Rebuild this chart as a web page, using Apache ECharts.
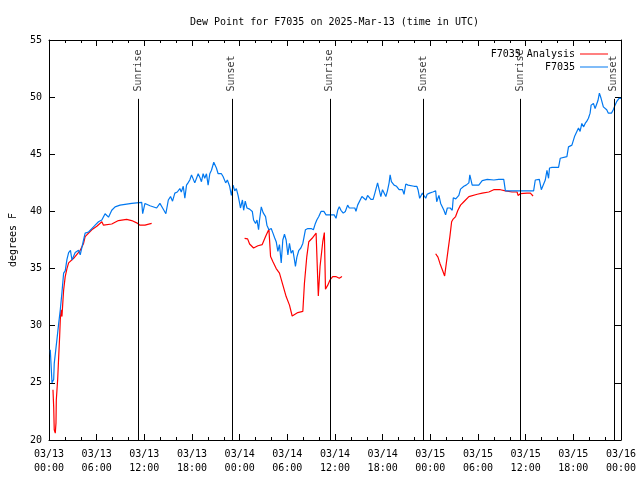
<!DOCTYPE html>
<html><head><meta charset="utf-8">
<script src="https://cdn.jsdelivr.net/npm/echarts@6/dist/echarts.min.js"></script>
<style>html,body{margin:0;padding:0;background:#fff}#c{width:640px;height:480px}</style>
</head><body><div id="c"></div>
<script>
// Hours since 2025-03-13 00:00 UTC
const xTickLabels = ["03/13\n00:00","03/13\n06:00","03/13\n12:00","03/13\n18:00","03/14\n00:00","03/14\n06:00","03/14\n12:00","03/14\n18:00","03/15\n00:00","03/15\n06:00","03/15\n12:00","03/15\n18:00","03/16\n00:00"];
const sunT = [11.29, 23.08, 35.41, 47.16, 59.36, 71.16];
const sunNames = ["Sunrise","Sunset","Sunrise","Sunset","Sunrise","Sunset"];

const blueT = [0.16,0.38,0.59,0.66,1.0,1.22,1.42,1.63,1.84,2.04,2.26,2.47,2.7,2.89,3.3,3.51,3.72,3.93,4.35,4.55,4.98,5.39,5.81,6.23,6.65,7.06,7.49,7.9,8.32,8.94,10.41,10.62,11.67,11.79,12.08,12.29,12.71,13.55,13.96,14.3,14.71,15.02,15.3,15.55,15.84,16.15,16.47,16.65,16.9,17.1,17.31,17.5,17.72,17.94,18.15,18.35,18.78,18.98,19.19,19.4,19.6,19.82,20.03,20.24,20.45,20.74,21.07,21.29,21.7,21.91,22.24,22.45,22.74,22.96,23.17,23.38,23.58,23.8,24.0,24.1,24.35,24.5,24.7,24.92,25.25,25.59,25.75,26.0,26.18,26.38,26.5,26.72,26.95,27.26,27.43,27.68,27.97,28.19,28.4,28.6,28.81,29.01,29.23,29.43,29.64,29.85,30.07,30.27,30.48,30.7,30.9,31.02,31.2,31.45,31.7,31.95,32.28,32.58,33.0,33.28,33.53,33.71,33.96,34.24,34.6,34.87,35.5,35.9,36.13,36.34,36.54,36.75,37.04,37.3,37.59,37.8,38.01,38.5,38.64,38.85,39.05,39.39,39.6,39.89,40.1,40.3,40.52,40.8,41.02,41.36,41.56,41.77,41.98,42.19,42.4,42.6,42.81,42.94,43.1,43.44,43.75,44.07,44.5,44.69,44.91,45.2,45.95,46.3,46.45,46.66,47.0,47.2,47.42,47.6,47.9,48.3,48.67,48.8,49.08,49.3,49.5,49.71,49.92,50.14,50.5,50.76,50.89,51.2,51.59,51.8,52.22,52.5,52.85,52.97,53.27,54.1,54.53,55.16,56.0,56.61,57.24,57.45,58.5,59.5,60.5,61.0,61.21,61.72,61.97,62.2,62.47,62.68,62.88,63.0,63.31,64.14,64.35,65.19,65.39,65.82,66.15,66.4,66.65,66.85,67.07,67.3,67.49,67.7,67.9,68.11,68.24,68.53,68.74,68.95,69.1,69.28,69.49,69.78,70.0,70.2,70.41,70.8,71.03,71.25,71.45,71.75,72.0];
const blueV = [27.9,25.0,25.3,26.7,28.8,30.2,31.4,32.9,34.6,34.8,35.8,36.4,36.6,35.75,36.4,36.4,36.6,36.2,37.5,38.1,38.2,38.5,38.8,39.1,39.25,39.8,39.5,40.1,40.4,40.55,40.7,40.8,40.8,39.8,40.7,40.8,40.5,40.3,40.7,40.3,39.8,41.0,41.3,40.9,41.6,41.7,42.0,41.7,42.2,41.15,42.3,42.5,42.75,43.2,43.2,42.5,43.3,43.0,42.6,43.3,42.9,43.3,42.3,43.3,43.6,44.3,43.8,43.3,43.3,43.05,42.5,42.75,42.2,41.4,42.3,41.8,42.0,41.4,40.7,40.3,41.0,40.1,40.9,40.3,40.2,40.0,39.25,38.95,39.25,38.4,39.25,40.4,39.9,39.55,38.8,38.4,38.5,38.1,37.7,37.35,36.5,37.1,35.5,37.5,38.0,37.5,36.2,37.2,36.35,36.6,35.75,35.2,36.0,36.6,36.8,37.2,38.4,38.5,38.5,38.4,38.95,39.25,39.55,40.0,40.0,39.7,39.7,39.7,39.4,40.1,40.4,40.1,39.85,40.0,40.55,40.3,40.3,40.3,40.0,40.55,40.7,41.3,41.3,41.0,41.4,41.3,41.05,41.05,41.6,42.5,41.9,41.3,41.9,42.0,41.3,41.8,42.5,43.2,42.6,42.3,42.2,41.9,41.9,41.5,42.4,42.3,42.2,42.2,41.9,41.15,41.6,41.7,41.15,41.5,41.6,41.7,41.8,40.85,41.4,40.7,40.6,40.1,39.7,40.3,40.3,40.1,41.2,41.1,41.4,41.95,42.2,42.3,42.5,43.2,42.3,42.3,42.7,42.8,42.75,42.8,42.8,41.8,41.8,41.8,41.8,41.8,42.75,42.8,41.9,41.8,42.75,43.6,42.9,43.8,43.85,43.85,44.65,44.8,45.65,45.8,46.55,46.7,47.3,47.0,47.7,47.4,47.7,47.9,48.15,48.6,49.3,49.45,49.0,49.0,49.7,50.35,49.9,49.15,49.2,48.9,48.6,48.6,48.9,49.3,49.6,49.9,49.9];

const redT = [0.5,0.59,0.66,0.79,0.88,0.92,1.09,1.22,1.34,1.42,1.51,1.63,1.76,1.84,2.04,2.26,2.47,3.1,3.93,4.35,4.55,5.39,6.02,6.65,6.86,7.9,8.74,9.78,10.41,11.04,11.45,12.08,12.92,
  18.0,
  24.62,25.0,25.25,25.75,26.3,26.84,27.26,27.68,27.89,28.19,28.6,29.01,29.44,29.85,30.27,30.61,30.86,31.32,31.95,32.15,32.45,32.7,33.12,33.62,33.83,33.9,34.12,34.46,34.66,34.78,34.8,35.09,35.37,35.71,36.1,36.54,36.88,
  42.0,
  48.67,48.96,49.21,49.51,49.8,49.96,50.21,50.46,50.68,50.84,51.18,51.47,51.8,52.22,52.85,53.9,54.53,55.36,55.98,56.82,57.45,58.29,58.92,59.04,59.33,60.17,60.59,60.93];
const redV = [24.4,22.9,20.9,20.6,21.5,23.5,25.3,27.3,29.05,30.5,31.4,30.8,32.25,33.1,34.3,35.0,35.5,35.9,36.6,37.2,37.8,38.4,38.7,39.1,38.8,38.9,39.2,39.3,39.2,39.0,38.8,38.8,38.95,
  null,
  37.65,37.6,37.15,36.8,37.0,37.1,37.8,38.45,36.05,35.6,35.0,34.6,33.55,32.55,31.8,30.85,30.85,31.15,31.25,33.7,36.05,37.35,37.65,38.1,38.15,32.6,35.2,37.35,38.15,38.15,33.2,33.55,34.0,34.3,34.3,34.15,34.3,
  null,
  36.3,36.0,35.45,34.9,34.35,34.4,36.5,37.8,39.1,39.3,39.55,40.1,40.55,40.85,41.3,41.5,41.6,41.7,41.9,41.9,41.8,41.7,41.7,41.4,41.55,41.6,41.6,41.35];

const FONT = 'DejaVu Sans Mono';
const blueData = blueT.map((t,i)=>[t, blueV[i]]);
const redData = redT.map((t,i)=>[t, redV[i]]);

const xAxisBase = {
  type:'value', min:0, max:72, interval:6,
  axisLine:{show:true, onZero:false, lineStyle:{color:'#000', width:1}},
  axisTick:{show:true, inside:true, length:6, lineStyle:{color:'#000', width:1}},
  minorTick:{show:true, splitNumber:3, length:3, lineStyle:{color:'#000', width:1}},
  splitLine:{show:false}
};
const yAxisBase = {
  type:'value', min:20, max:55, interval:5,
  axisLine:{show:true, onZero:false, lineStyle:{color:'#000', width:1}},
  axisTick:{show:true, inside:true, length:6, lineStyle:{color:'#000', width:1}},
  splitLine:{show:false}
};

const chart = echarts.init(document.getElementById('c'), null, {renderer:'canvas'});
chart.setOption({
  animation:false,
  backgroundColor:'#fff',
  title:{text:'Dew Point for F7035 on 2025-Mar-13 (time in UTC)', left:185, top:12,
    textStyle:{fontFamily:FONT, fontSize:10, fontWeight:'normal', color:'#000'}},
  grid:{left:47, right:19, top:40, bottom:40},
  legend:[
    {data:['F7035 Analysis'], orient:'vertical', right:27, top:44, align:'right', icon:'rect', itemWidth:28, itemHeight:1, selectedMode:false,
     textStyle:{fontFamily:FONT, fontSize:10, color:'#000'}},
    {data:['F7035'], orient:'vertical', right:27, top:57, align:'right', icon:'rect', itemWidth:28, itemHeight:1, selectedMode:false,
     textStyle:{fontFamily:FONT, fontSize:10, color:'#000'}}
  ],
  xAxis:[
    Object.assign({}, xAxisBase, {position:'bottom',
      axisLabel:{show:true, color:'#000', fontFamily:FONT, fontSize:10, lineHeight:14, margin:7,
        formatter:(v)=> xTickLabels[Math.round(v/6)]}}),
    Object.assign({}, xAxisBase, {position:'top', axisLabel:{show:false}})
  ],
  yAxis:[
    Object.assign({}, yAxisBase, {position:'left', name:'degrees F', nameLocation:'middle', nameGap:31,
      nameTextStyle:{fontFamily:FONT, fontSize:10, color:'#000'},
      axisLabel:{show:true, color:'#000', fontFamily:FONT, fontSize:10, margin:7}}),
    Object.assign({}, yAxisBase, {position:'right', axisLabel:{show:false}})
  ],
  series:[
    {name:'F7035 Analysis', type:'line', data:redData, showSymbol:false, symbol:'none', connectNulls:false,
     color:'#ff0000', lineStyle:{color:'#ff0000', width:1.2}, z:2, silent:true},
    {name:'F7035', type:'line', data:blueData, showSymbol:false, symbol:'none',
     color:'#0078f0', lineStyle:{color:'#0078f0', width:1.2}, z:3, silent:true},
    {name:'sun', type:'scatter', symbolSize:1, itemStyle:{color:'rgba(0,0,0,0)'}, silent:true, z:4,
     data: sunT.map((t,i)=>({value:[t, 50.45], label:{formatter:sunNames[i]}})),
     label:{show:true, position:[0,0], rotate:90, align:'left', verticalAlign:'middle',
       fontFamily:FONT, fontSize:10, color:'#000'},
     markLine:{silent:true, symbol:['none','none'], animation:false, label:{show:false},
       lineStyle:{color:'#000', width:1, type:'solid'},
       data: sunT.map(t=>[{coord:[t,20]},{coord:[t,49.85]}])}
    }
  ]
});
</script>
</body></html>
